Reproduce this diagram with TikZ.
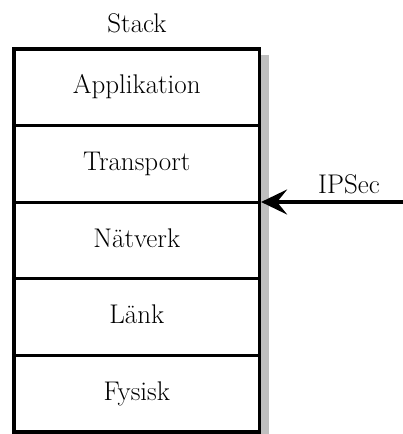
\documentclass[tikz,border=0pt]{standalone}
\usetikzlibrary{arrows.meta}
\begin{document}
\begin{tikzpicture}[x=1pt,y=-1pt,
  layer/.style={draw, line width=3.2pt, rectangle, minimum width=245.5pt,
    minimum height=76.6pt, inner sep=0pt, text height=18pt, text depth=5pt,
    font=\fontsize{27}{32}\selectfont},
  caption/.style={inner sep=0pt, anchor=base, font=\fontsize{27}{32}\selectfont}]
  \useasboundingbox (0,0) rectangle (403,434);
  % drop shadow along the right side of the stack
  \fill[black!25] (261,55) rectangle (269,440);
  % protocol layers, top to bottom
  \node[layer] (app) at (136.75,87.3)  {Applikation};
  \node[layer] (tra) at (136.75,163.9) {Transport};
  \node[layer] (net) at (136.75,240.5) {Nätverk};
  \node[layer] (lnk) at (136.75,317.1) {Länk};
  \node[layer] (phy) at (136.75,393.7) {Fysisk};
  % labels
  \node[caption] (title) at (137,32) {Stack};
  \node[caption] (ipsec) at (349,193) {IPSec};
  % IPSec enters at the network layer
  \coordinate (from) at (410,202);
  \draw[line width=3.2pt, -{Stealth[length=26pt, width=25pt, inset=10pt]}]
    (from) -- (from -| net.east);
\end{tikzpicture}
\end{document}
